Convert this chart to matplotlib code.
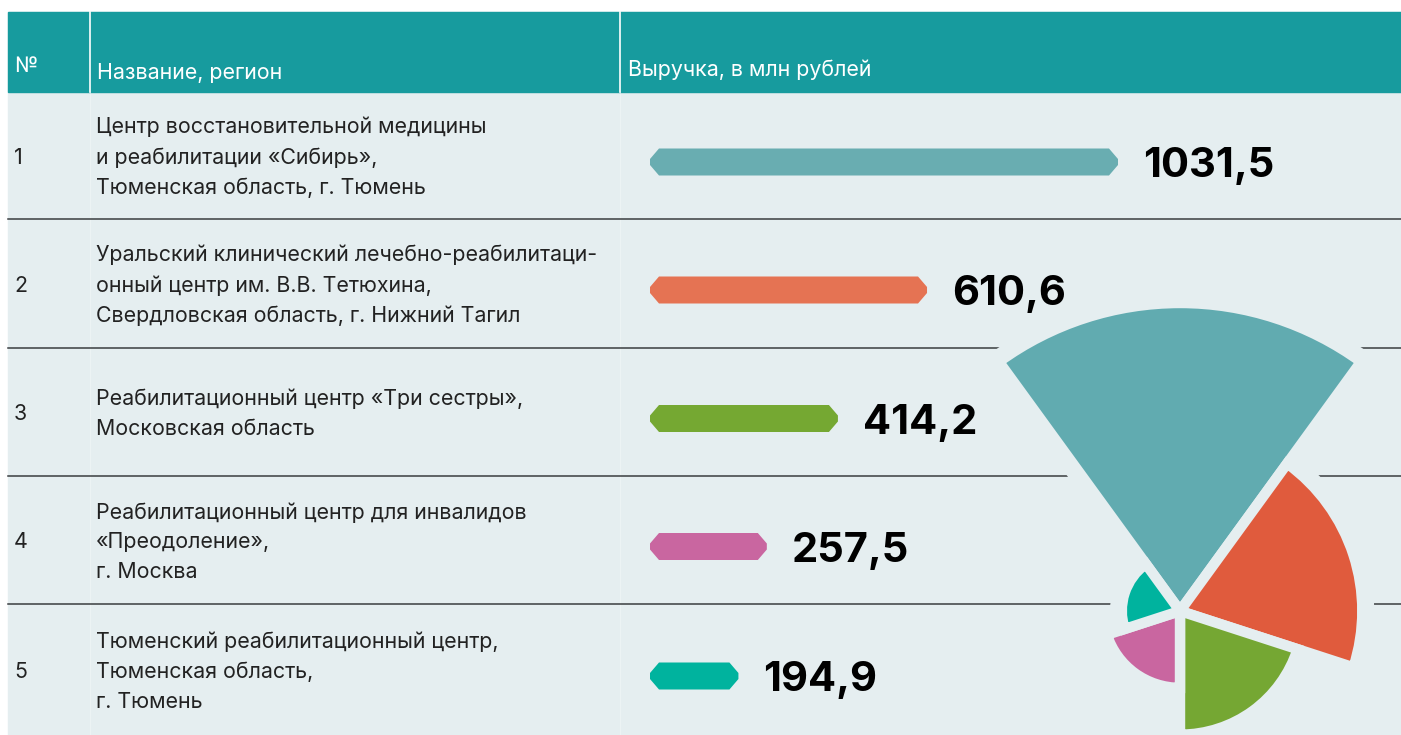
import numpy as np
import matplotlib.pyplot as plt
from matplotlib.patches import Rectangle, Polygon

# ---- data ----
numbers = ['1', '2', '3', '4', '5']
names = [
    'Центр восстановительной медицины\nи реабилитации «Сибирь»,\nТюменская область, г. Тюмень',
    'Уральский клинический лечебно-реабилитаци-\nонный центр им. В.В. Тетюхина,\nСвердловская область, г. Нижний Тагил',
    'Реабилитационный центр «Три сестры»,\nМосковская область',
    'Реабилитационный центр для инвалидов\n«Преодоление»,\nг. Москва',
    'Тюменский реабилитационный центр,\nТюменская область,\nг. Тюмень',
]
revenue = [1031.5, 610.6, 414.2, 257.5, 194.9]
revenue_labels = ['1031,5', '610,6', '414,2', '257,5', '194,9']
header = ['№', 'Название, регион', 'Выручка, в млн рублей']

bar_colors = ['#69adb1', '#e57353', '#75a832', '#c966a0', '#00b39e']
pie_colors = ['#61abb0', '#e05b3d', '#75a733', '#c966a0', '#00b39e']

HEAD = '#179b9e'
BG = '#e5eef0'
LINE = '#3a3d3f'
FONT = ['Inter', 'DejaVu Sans']
FS = 15.4

# ---- layout (pixels) ----
W, H = 1401, 735
row_edges = [92, 219, 348, 476, 604, 735]

fig = plt.figure(figsize=(W / 100, H / 100), dpi=100)
fig.patch.set_facecolor('white')

ax = fig.add_axes([0, 0, 1, 1])
ax.set_xlim(0, W)
ax.set_ylim(H, 0)
ax.axis('off')

ax.add_patch(Rectangle((8, 12), W - 8, H - 12, color=BG, zorder=0))
ax.add_patch(Rectangle((8, 12), W - 8, 80, color=HEAD, zorder=1))
for xv in [90, 620]:
    ax.plot([xv, xv], [12, 92], color='white', lw=1.2, zorder=2)
    ax.plot([xv, xv], [92, H], color='white', lw=0.8, alpha=0.3, zorder=2)

ax.text(14, 66, header[0], color='white', fontsize=FS, family=FONT, va='center')
ax.text(97, 73, header[1], color='white', fontsize=FS, family=FONT, va='center')
ax.text(628, 70, header[2], color='white', fontsize=FS, family=FONT, va='center')

for y in row_edges[1:-1]:
    ax.plot([8, W], [y, y], color=LINE, lw=1.1, zorder=2)

row_mid = [(row_edges[i] + row_edges[i + 1]) / 2 for i in range(len(numbers))]
for i, (num, name) in enumerate(zip(numbers, names)):
    yc = row_mid[i] + 2
    ax.text(14, yc, num, fontsize=FS, family=FONT, color='#222222', va='center')
    ax.text(96, yc, name, fontsize=FS, family=FONT, color='#222222',
            va='center', linespacing=1.6)

# ---- bars ----
px_per_unit = 0.4537
bar_x0 = 650
axb = fig.add_axes([bar_x0 / W, 0, (W - bar_x0) / W, 1])
axb.set_xlim(0, (W - bar_x0) / px_per_unit)
axb.set_ylim(H, 0)
axb.axis('off')
axb.patch.set_alpha(0)

half = 13.5
tip = 3
chamfer = 9 / px_per_unit
for i, v in enumerate(revenue):
    yc = row_mid[i] + 6.5
    pts = [(0, yc - tip), (chamfer, yc - half), (v - chamfer, yc - half), (v, yc - tip),
           (v, yc + tip), (v - chamfer, yc + half), (chamfer, yc + half), (0, yc + tip)]
    axb.add_patch(Polygon(pts, closed=True, color=bar_colors[i], lw=0, zorder=3))
    axb.annotate(revenue_labels[i], (v, yc), xytext=(18, -11), textcoords='offset points',
                 fontsize=30, fontweight='bold', family=FONT, color='black', va='baseline')

# ---- rose chart ----
cx, cy = 1180, 611
px_per_r = 0.2986
rmax = 1100
R = rmax * px_per_r
axp = fig.add_axes([(cx - R) / W, (H - cy - R) / H, 2 * R / W, 2 * R / H], projection='polar')
axp.set_theta_zero_location('N')
axp.set_theta_direction(-1)
axp.set_ylim(0, rmax)
axp.axis('off')
axp.patch.set_alpha(0)

n = len(revenue)
theta = np.arange(n) * 2 * np.pi / n
width = 2 * np.pi / n
axp.bar(theta, revenue, width=width, color=BG, edgecolor=BG, linewidth=17, zorder=1)
axp.bar(theta, revenue, width=width, color=pie_colors, edgecolor=BG, linewidth=7.5, zorder=2)

fig.savefig('out.png', dpi=100, facecolor=fig.get_facecolor())
